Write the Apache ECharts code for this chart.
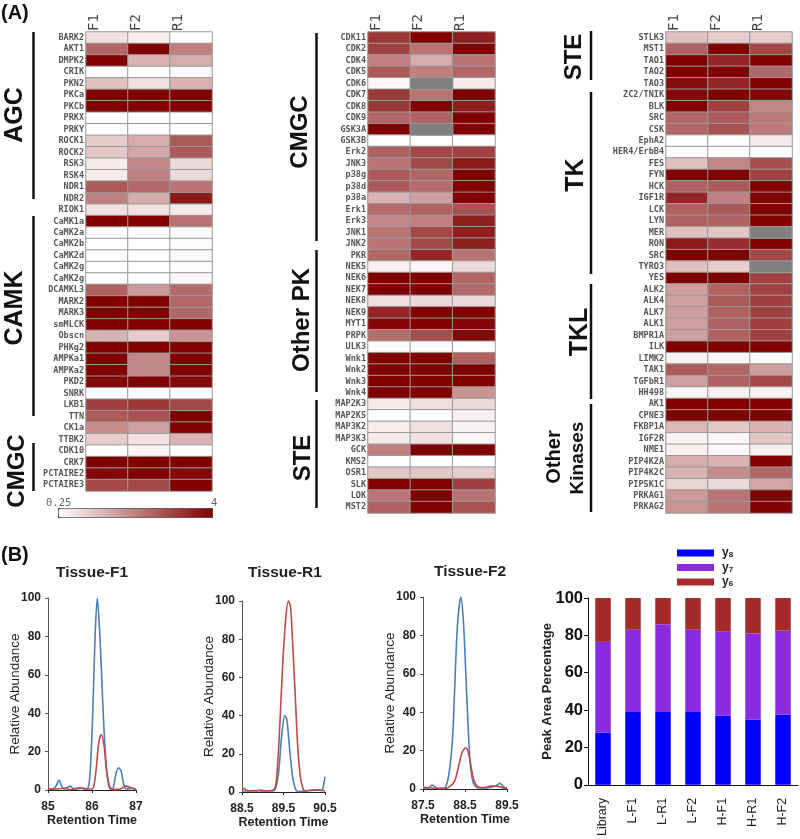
<!DOCTYPE html>
<html>
<head>
<meta charset="utf-8">
<style>
    html, body { margin: 0; padding: 0; background: #fff; }
    #chart { width: 800px; height: 839px; }
</style>
<script src="https://cdn.jsdelivr.net/npm/echarts@6/dist/echarts.min.js"></script>
</head>
<body>
<div id="chart"></div>
<script>
// heatmap columns, values are the position on the 0.25 - 4 colour bar (0 = white, 1 = dark red), null = no data (grey)
const columns = ['F1', 'F2', 'R1']

const kinases1 = ['BARK2','AKT1','DMPK2','CRIK','PKN2','PKCa','PKCb','PRKX','PRKY','ROCK1','ROCK2','RSK3','RSK4','NDR1','NDR2','RIOK1',
    'CaMK1a','CaMK2a','CaMK2b','CaMK2d','CaMK2g','CaMK2g','DCAMKL3','MARK2','MARK3','smMLCK','Obscn','PHKg2','AMPKa1','AMPKa2','PKD2','SNRK',
    'LKB1','TTN','CK1a','TTBK2','CDK10','CRK7','PCTAIRE2','PCTAIRE3']
const values1 = [
    [.12,.07,0],[.6,1,.5],[1,.3,.33],[0,0,.03],[.25,.12,.3],[1,1,1],[1,1,1],[0,0,0],[0,0,0],[.2,.33,.65],
    [.22,.35,.65],[.08,.48,.15],[.08,.5,.15],[.65,.6,.55],[.5,.33,.9],[.12,.12,.08],[1,1,.55],[0,0,.02],[0,0,.02],[0,0,.02],
    [0,0,.02],[0,0,.03],[.62,.4,.58],[1,1,.6],[1,1,.6],[1,1,1],[.3,.2,.42],[1,1,1],[1,.48,1],[1,.48,1],
    [.97,1,.97],[0,0,0],[.75,.78,.72],[.65,.68,1],[.45,.38,1],[.2,.12,.3],[0,.04,0],[1,1,1],[.97,1,.97],[.72,.72,1]
]

const kinases2 = ['CDK11','CDK2','CDK4','CDK5','CDK6','CDK7','CDK8','CDK9','GSK3A','GSK3B','Erk2','JNK3','p38g','p38d','p38a','Erk1','Erk3','JNK1','JNK2','PKR',
    'NEK5','NEK6','NEK7','NEK8','NEK9','MYT1','PRPK','ULK3','Wnk1','Wnk2','Wnk3','Wnk4',
    'MAP2K3','MAP2K5','MAP3K2','MAP3K3','GCK','KMS2','OSR1','SLK','LOK','MST2']
const values2 = [
    [.78,1,.88],[.75,.55,1],[.5,.33,.55],[.65,.5,.6],[.03,null,.08],[.78,.55,1],[.78,1,.88],[.6,.62,1],[1,null,1],[0,0,0],
    [.62,.72,.75],[.55,.72,.9],[.65,.6,1],[.65,.58,1],[.3,.38,1],[.58,.62,.68],[.48,.5,.88],[.55,.72,.88],[.55,.72,.88],[.6,.85,.55],
    [.06,.03,.15],[1,1,.6],[1,1,.6],[.13,.15,.15],[.85,1,1],[.98,1,.98],[.58,.7,.98],[.02,.02,0],[1,1,.62],[1,1,1],
    [1,1,1],[1,1,.42],[.08,.13,.15],[0,0,.06],[.07,.12,.05],[.08,.12,.03],[.5,1,1],[0,0,0],[.22,.22,.2],[1,1,.75],[.55,1,.55],[.62,1,.68]
]

const kinases3 = ['STLK3','MST1','TAO1','TAO2','TAO3','ZC2/TNIK','BLK','SRC','CSK','EphA2','HER4/ErbB4','FES','FYN','HCK','IGF1R','LCK','LYN','MER','RON','SRC','TYRO3','YES',
    'ALK2','ALK4','ALK7','ALK1','BMPR1A','ILK','LIMK2','TAK1','TGFbR1','HH498',
    'AK1','CPNE3','FKBP1A','IGF2R','NME1','PIP4K2A','PIP4K2C','PIP5K1C','PRKAG1','PRKAG2']
const values3 = [
    [.25,.2,.2],[.62,1,.72],[1,.85,1],[1,1,.6],[.95,.85,1],[.97,1,.98],[1,.75,.48],[.6,.65,.52],[.6,.68,.52],[0,0,.08],
    [.01,0,0],[.25,.48,.7],[1,1,.75],[.62,.65,1],[.85,.5,1],[.62,.65,1],[.62,.62,1],[.25,.22,null],[.9,.82,1],[1,1,.72],
    [.25,.2,null],[1,1,.75],[.38,.62,.75],[.38,.65,.75],[.38,.62,.75],[.38,.62,.75],[.38,.62,.75],[1,1,1],[.06,.03,.02],[.65,.6,.38],
    [.38,.62,.72],[.04,.06,.05],[1,1,1],[1,1,1],[.28,.22,.3],[.05,.03,.22],[.07,.03,.07],[.33,.3,1],[.3,.45,.6],[.17,.15,.35],[.4,.55,1],[.42,.55,1]
]

// chromatograms, [retention time, relative abundance]
const f1Blue = [[85,.5],[85.1,.5],[85.18,2],[85.25,5],[85.32,1.5],[85.38,.5],[85.5,2],[85.6,.3],[85.75,1],[85.88,.5],[85.93,3],[85.97,14],[86.02,42],[86.07,80],[86.12,100],[86.18,80],[86.24,48],[86.3,20],[86.36,5],[86.42,.3],[86.48,1],[86.54,8],[86.6,11.5],[86.66,10],[86.72,3],[86.78,.5],[86.9,1],[87,0]]
const f1Red = [[85,.5],[85.2,.5],[85.4,1],[85.5,.2],[85.7,1.2],[85.85,.6],[86,.5],[86.05,3],[86.1,12],[86.15,24],[86.21,29],[86.28,22],[86.33,10],[86.4,2],[86.47,.3],[86.62,.3],[86.77,2],[86.9,1],[87,.3]]
const r1Blue = [[88.5,.5],[88.8,.8],[89,.5],[89.2,.5],[89.3,1.5],[89.38,10],[89.45,28],[89.53,40],[89.58,38],[89.65,22],[89.72,8],[89.8,1],[89.9,.3],[90.1,.8],[90.3,1],[90.42,.8],[90.46,3],[90.5,8]]
const r1Red = [[88.5,2],[88.55,1.8],[88.65,.6],[88.85,.6],[88.95,1],[89.05,.6],[89.2,.8],[89.28,1.5],[89.33,6],[89.4,30],[89.47,62],[89.55,90],[89.62,100],[89.67,97],[89.72,78],[89.78,52],[89.84,25],[89.9,9],[89.96,2.5],[90.02,.5],[90.2,1],[90.35,1.2],[90.45,.7],[90.5,.5]]
const f2Blue = [[87.5,.5],[87.6,.3],[87.72,2],[87.85,.3],[88,.3],[88.05,1.5],[88.12,8],[88.2,25],[88.25,50],[88.32,85],[88.4,100],[88.46,88],[88.52,60],[88.58,30],[88.63,12],[88.7,3],[88.78,.8],[88.9,.5],[89.1,.8],[89.25,1.8],[89.33,3],[89.4,1.5],[89.5,.3]]
const f2Red = [[87.5,1],[87.7,.5],[88,.3],[88.1,.7],[88.25,4],[88.35,12],[88.43,19],[88.52,21.5],[88.58,19],[88.65,11],[88.72,4],[88.82,1],[88.95,.7],[89.1,1.5],[89.25,1.5],[89.4,.6],[89.5,.3]]

// stacked peak area percentage
const samples = ['Library', 'L-F1', 'L-R1', 'L-F2', 'H-F1', 'H-R1', 'H-F2']
const y8 = [28, 39, 39, 39, 37, 35, 37.5]
const y7 = [48.5, 44, 47, 44, 45, 46, 45]
const y6 = [23.5, 17, 14, 17, 18, 19, 17.5]

const sans = '"Liberation Sans", Arial, sans-serif'
const mono = '"DejaVu Sans Mono", monospace'

const grids = []
const xAxes = []
const yAxes = []
const series = []
const titles = []
const graphics = []

function addHeatmap(left, top, width, height, names, rows) {
    const idx = grids.length
    grids.push({ left, top, width, height })
    xAxes.push({
        type: 'category', gridIndex: idx, position: 'top', data: columns,
        axisLine: { show: false },
        axisTick: { show: false },
        axisLabel: {
            interval: 0, rotate: -90, margin: 1, fontFamily: mono, fontSize: 14, color: '#444', lineHeight: 26,
            // empty second line pushes the column name to the left part of the cell
            formatter: name => name + '\n '
        }
    })
    yAxes.push({
        type: 'category', gridIndex: idx, inverse: true, data: names,
        axisLine: { show: false },
        axisTick: { show: false },
        axisLabel: { interval: 0, margin: 2, fontFamily: mono, fontSize: 8.5, fontWeight: 'bold', color: '#555' }
    })
    const cells = []
    const missing = []
    rows.forEach((row, y) => row.forEach((v, x) => {
        if (v === null) missing.push([x, y, 1])
        else cells.push([x, y, v])
    }))
    series.push({
        type: 'heatmap', xAxisIndex: idx, yAxisIndex: idx, data: cells,
        itemStyle: { borderColor: '#999', borderWidth: 1 }
    })
    series.push({
        type: 'heatmap', xAxisIndex: idx, yAxisIndex: idx, data: missing,
        itemStyle: { color: '#808080', borderColor: '#999', borderWidth: 1 }
    })
}

function addChromatogram(left, top, width, height, name, titleX, titleY, xMin, xMax, xTicks, blue, red) {
    const idx = grids.length
    grids.push({ left, top, width, height })
    xAxes.push({
        type: 'value', gridIndex: idx, min: xMin, max: xMax, interval: 0.5,
        name: 'Retention Time', nameLocation: 'middle', nameGap: 24, nameMoveOverlap: false,
        nameTextStyle: { fontFamily: sans, fontSize: 12.5, fontWeight: 'bold', color: '#222' },
        splitLine: { show: false },
        axisLine: { lineStyle: { color: '#222' } },
        axisTick: { customValues: xTicks, length: 3, lineStyle: { color: '#222' } },
        axisLabel: { customValues: xTicks, margin: 11, fontFamily: sans, fontSize: 12, fontWeight: 'bold', color: '#222' }
    })
    yAxes.push({
        type: 'value', gridIndex: idx, min: 0, max: 100, interval: 20,
        name: 'Relative Abundance', nameLocation: 'middle', nameGap: 26, nameMoveOverlap: false,
        nameTextStyle: { fontFamily: sans, fontSize: 13.5, color: '#222' },
        splitLine: { show: false },
        axisLine: { show: true, lineStyle: { color: '#555' } },
        axisTick: { show: true, length: 3, lineStyle: { color: '#555' } },
        axisLabel: { margin: 7, fontFamily: sans, fontSize: 12, fontWeight: 'bold', color: '#222' }
    })
    titles.push({
        text: name, left: titleX, top: titleY, padding: 0, textAlign: 'center',
        textStyle: { fontFamily: sans, fontSize: 15.5, fontWeight: 'bold', color: '#222' }
    })
    const line = (data, color) => ({
        type: 'line', xAxisIndex: idx, yAxisIndex: idx, data, smooth: 0.3, showSymbol: false, clip: false,
        lineStyle: { color, width: 1.6 }
    })
    series.push(line(blue, '#4a7ebb'), line(red, '#be4b48'))
}

function addGroup(text, x, y, size, barX, barTop, barBottom) {
    if (text) {
        graphics.push({
            type: 'text', x, y, rotation: Math.PI / 2,
            style: { text, font: 'bold ' + size + 'px ' + sans, fill: '#111', align: 'center', verticalAlign: 'middle' }
        })
    }
    if (barX) {
        graphics.push({
            type: 'line', shape: { x1: barX, y1: barTop, x2: barX, y2: barBottom },
            style: { stroke: '#111', lineWidth: 2.5 }
        })
    }
}

addHeatmap(86, 32, 126, 459, kinases1, values1)
addHeatmap(368, 32, 127, 481, kinases2, values2)
addHeatmap(666, 32, 126, 481, kinases3, values3)

addChromatogram(48, 598, 88, 192, 'Tissue-F1', 92, 565, 85, 87, [85, 86, 87], f1Blue, f1Red)
addChromatogram(242, 601, 83, 191, 'Tissue-R1', 285, 565, 88.5, 90.5, [88.5, 89.5, 90.5], r1Blue, r1Red)
addChromatogram(423, 597, 84, 192, 'Tissue-F2', 470, 564, 87.5, 89.5, [87.5, 88.5, 89.5], f2Blue, f2Red)

// stacked bars
const barIdx = grids.length
grids.push({ left: 588, top: 598, width: 210, height: 189 })
xAxes.push({
    type: 'category', gridIndex: barIdx, data: samples,
    axisLine: { lineStyle: { color: '#111' } },
    axisTick: { length: 3, lineStyle: { color: '#111' } },
    axisLabel: { interval: 0, rotate: 90, margin: 13, fontFamily: sans, fontSize: 12.5, color: '#222' }
})
yAxes.push({
    type: 'value', gridIndex: barIdx, min: 0, max: 100, interval: 20,
    name: 'Peak Area Percentage', nameLocation: 'middle', nameGap: 34, nameMoveOverlap: false,
    nameTextStyle: { fontFamily: sans, fontSize: 13, fontWeight: 'bold', color: '#222' },
    splitLine: { show: false },
    axisLine: { show: true, lineStyle: { color: '#111' } },
    axisTick: { show: true, length: 4, lineStyle: { color: '#111' } },
    axisLabel: { margin: 5, fontFamily: sans, fontSize: 16.5, fontWeight: 'bold', color: '#111' }
})
const addBar = (name, data, color) => series.push({
    type: 'bar', name, data, stack: 'area', xAxisIndex: barIdx, yAxisIndex: barIdx, barWidth: 15.5, itemStyle: { color }
})
addBar('y8', y8, '#0000ff')
addBar('y7', y7, '#8a2be2')
addBar('y6', y6, '#a52a2a')

// panel letters
graphics.push({ type: 'text', x: 1, y: 3, style: { text: '(A)', font: 'bold 20px ' + sans, fill: '#111' } })
graphics.push({ type: 'text', x: 1, y: 545, style: { text: '(B)', font: 'bold 20px ' + sans, fill: '#111' } })

// kinase groups
addGroup('AGC', 15, 115, 25, 33.5, 32, 199)
addGroup('CAMK', 15, 308, 25, 33.5, 216, 416)
addGroup('CMGC', 17, 471, 24, 33.5, 443, 491)
addGroup('CMGC', 300, 132, 24, 316.5, 33, 241)
addGroup('Other PK', 302, 320, 24, 316.5, 250, 392)
addGroup('STE', 303, 458, 24, 316.5, 400, 508)
addGroup('STE', 574, 57, 24, 591, 31, 80)
addGroup('TK', 576, 175, 25, 591, 92, 274)
addGroup('TKL', 580, 332, 25, 591, 284, 399)
addGroup('Other', 554, 457, 20)
addGroup('Kinases', 578, 458, 19, 591, 404, 512)

// colour bar labels
graphics.push({ type: 'text', x: 46, y: 498, style: { text: '0.25', font: '10.5px ' + mono, fill: '#666' } })
graphics.push({ type: 'text', x: 211, y: 498, style: { text: '4', font: '10.5px ' + mono, fill: '#666' } })

const option = {
    animation: false,
    backgroundColor: '#fff',
    title: titles,
    grid: grids,
    xAxis: xAxes,
    yAxis: yAxes,
    visualMap: {
        type: 'continuous', min: 0, max: 1, seriesIndex: [0, 2, 4], orient: 'horizontal',
        left: 58, top: 508, itemWidth: 9, itemHeight: 154, padding: 0,
        borderColor: '#333', borderWidth: 1,
        calculable: false, hoverLink: false,
        inRange: { color: ['#ffffff', '#800000'] }
    },
    legend: {
        data: ['y8', 'y7', 'y6'], orient: 'vertical', left: 677, top: 547,
        itemWidth: 37, itemHeight: 7, itemGap: 2.5, padding: 0, icon: 'rect',
        formatter: name => 'y{sub|' + name.slice(1) + '}',
        textStyle: {
            fontFamily: sans, fontSize: 12, fontWeight: 'bold', color: '#222', padding: [0, 0, 0, 3],
            rich: { sub: { fontFamily: sans, fontSize: 8, fontWeight: 'bold', color: '#222', verticalAlign: 'bottom', padding: [4, 0, 0, 0] } }
        }
    },
    graphic: graphics,
    series
}

const chart = echarts.init(document.getElementById('chart'))
chart.setOption(option)
</script>
</body>
</html>
